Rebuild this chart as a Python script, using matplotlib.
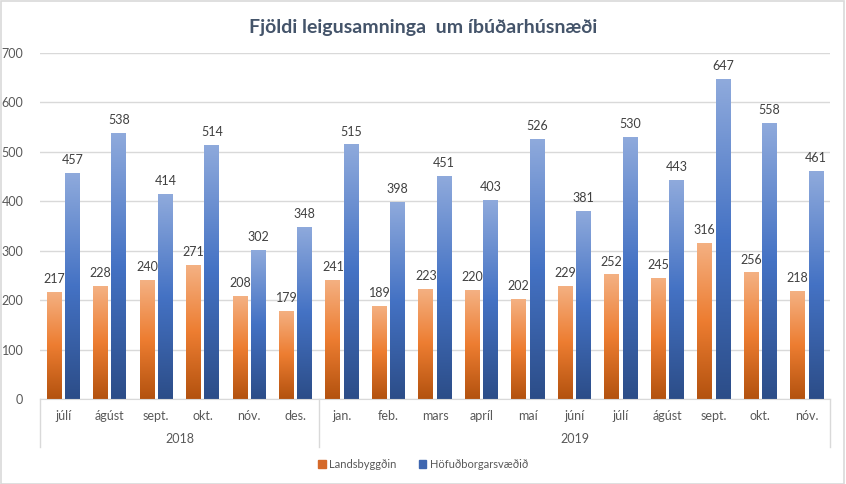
"""
Fjöldi leigusamninga um íbúðarhúsnæði - grouped bar chart.
"""

import numpy as np
import matplotlib
matplotlib.use("Agg")
import matplotlib.pyplot as plt
from matplotlib.colors import LinearSegmentedColormap
from matplotlib.patches import Rectangle

months = ["júlí", "ágúst", "sept.", "okt.", "nóv.", "des.",
          "jan.", "feb.", "mars", "apríl", "maí", "júní",
          "júlí", "ágúst", "sept.", "okt.", "nóv."]
years = ["2018", "2019"]
year_counts = [6, 11]
landsbyggdin = [217, 228, 240, 271, 208, 179, 241, 189, 223, 220, 202, 229, 252, 245, 316, 256, 218]
hofudborgarsvaedid = [457, 538, 414, 514, 302, 348, 515, 398, 451, 403, 526, 381, 530, 443, 647, 558, 461]

plt.rcParams['font.family'] = ['Lato', 'DejaVu Sans']

fig = plt.figure(figsize=(8.46, 4.84), dpi=100)
ax = fig.add_axes([40 / 846, 1 - 399 / 484, 790 / 846, 346 / 484])

orange_cmap = LinearSegmentedColormap.from_list("o", ["#B3520F", "#ED7D31", "#F4B183"])
blue_cmap = LinearSegmentedColormap.from_list("b", ["#2C4D88", "#4472C4", "#8FAADC"])
grad = np.linspace(0, 1, 256).reshape(-1, 1)

x = np.arange(len(months))
w = 0.32
gap = 0.075


def gradient_bars(xs, vals, cmap):
    for xi, v in zip(xs, vals):
        rect = Rectangle((xi - w / 2, 0), w, v, facecolor="none", edgecolor="none")
        ax.add_patch(rect)
        im = ax.imshow(grad, cmap=cmap, origin="lower", aspect="auto",
                       extent=(xi - w / 2, xi + w / 2, 0, v), zorder=2)
        im.set_clip_path(rect)
        ax.text(xi, v + 14, str(v), ha="center", va="bottom", fontsize=9, color="#404040")


x_o = x - w / 2 - gap / 2
x_b = x + w / 2 + gap / 2
gradient_bars(x_o, landsbyggdin, orange_cmap)
gradient_bars(x_b, hofudborgarsvaedid, blue_cmap)

ax.set_xlim(-0.5, len(months) - 0.5)
ax.set_ylim(0, 700)
ax.set_yticks(range(0, 701, 100))
ax.yaxis.grid(True, color="#D9D9D9", linewidth=1)
ax.set_axisbelow(True)
for s in ["top", "right", "left"]:
    ax.spines[s].set_visible(False)
ax.spines["bottom"].set_color("#D9D9D9")
ax.tick_params(axis="y", length=0, labelsize=9, labelcolor="#595959", pad=12)
ax.set_xticks(x)
ax.set_xticklabels(months)
ax.tick_params(axis="x", length=0, labelsize=9, labelcolor="#595959", pad=8)

# year labels and separators
trans = ax.get_xaxis_transform()
start = 0
bounds = [-0.5]
for yr, n in zip(years, year_counts):
    mid = start + (n - 1) / 2
    ax.text(mid, -0.115, yr, transform=trans, ha="center", va="center",
            fontsize=9, color="#595959")
    start += n
    bounds.append(start - 0.5)
for b in bounds:
    ax.plot([b, b], [0, -0.14], transform=trans, color="#D9D9D9", linewidth=1, clip_on=False)

fig.text(0.5, 1 - 27 / 484, "Fjöldi leigusamninga  um íbúðarhúsnæði", ha="center", va="center",
         fontsize=14, fontweight="bold", color="#44546A")

handles = [Rectangle((0, 0), 1, 1, color="#D5692A"), Rectangle((0, 0), 1, 1, color="#3E66B0")]
fig.legend(handles, ["Landsbyggðin", "Höfuðborgarsvæðið"], loc="center",
           bbox_to_anchor=(0.5, 1 - 464 / 484), ncol=2, frameon=False, fontsize=8,
           labelcolor="#595959", handlelength=0.7, handleheight=0.7, columnspacing=2.0,
           handletextpad=0.3)

fig.patches.append(Rectangle((0.001, 0.001), 0.997, 0.997, transform=fig.transFigure,
                             fill=False, edgecolor="#D9D9D9", linewidth=1.2))

fig.savefig("out.png", dpi=100)
